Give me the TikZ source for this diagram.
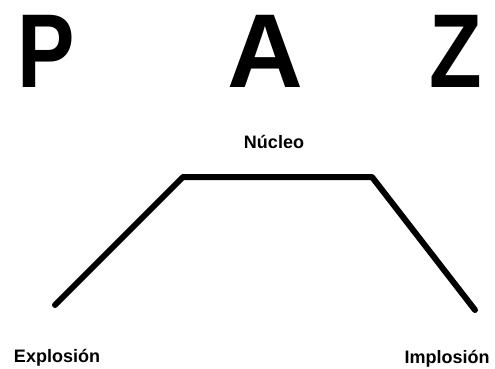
\documentclass[tikz,border=0pt]{standalone}
\usepackage{fontspec}
\setmainfont{Liberation Sans}
\begin{document}
\begin{tikzpicture}[x=1pt,y=-1pt,
  big/.style={inner sep=0pt,anchor=base,xscale=0.82,transform shape,font=\bfseries\fontsize{105}{105}\selectfont},
  lbl/.style={inner sep=0pt,anchor=base,font=\bfseries\fontsize{18}{18}\selectfont},
  path/.style={line width=6pt,line cap=round,line join=round}]
\useasboundingbox (0,0) rectangle (495,369);
\node[big] (p) at (46,88) {P};
\node[big,xscale=1/0.82] (a) at (265,88) {A};
\node[big] (z) at (456,88) {Z};
\node[lbl] (nucleo) at (274,148) {Núcleo};
\node[lbl] (explo) at (57,362) {Explosión};
\node[lbl] (implo) at (447,363) {Implosión};
\coordinate (e) at (55,305);
\coordinate (l) at (183,177);
\coordinate (r) at (372,177);
\coordinate (i) at (475,310);
\draw[path] (e) -- (l) -- (r) -- (i);
\end{tikzpicture}
\end{document}
